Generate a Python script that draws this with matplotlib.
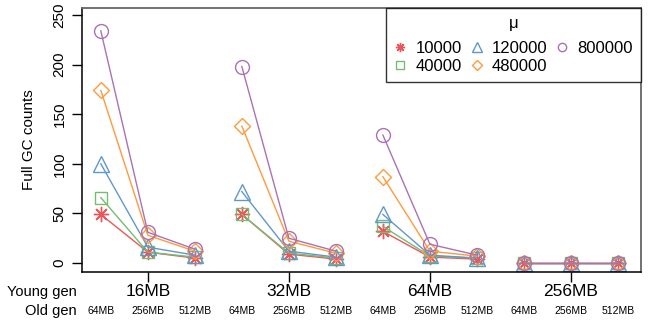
import matplotlib
matplotlib.use("Agg")
import matplotlib.pyplot as plt
import matplotlib.transforms as mtransforms
import numpy as np

plt.rcParams['font.family'] = ['Liberation Sans', 'DejaVu Sans']

young_gen = ["16MB", "32MB", "64MB", "256MB"]
old_gen = ["64MB", "256MB", "512MB"]

mu_labels = ["10000", "40000", "120000", "480000", "800000"]
# values per young gen group: [64MB, 256MB, 512MB] old gen
gc_10000 = [49, 11, 5, 49, 9, 4, 32, 6, 4, 0, 0, 0]
gc_40000 = [66, 11, 6, 49, 10, 5, 37, 7, 5, 0, 0, 0]
gc_120000 = [100, 16, 8, 72, 12, 6, 49, 8, 5, 0, 0, 0]
gc_480000 = [174, 28, 12, 138, 22, 10, 87, 12, 7, 0, 0, 0]
gc_800000 = [234, 31, 14, 198, 25, 12, 129, 19, 8, 0, 0, 0]

series = [gc_10000, gc_40000, gc_120000, gc_480000, gc_800000]
colors = ["#EE5559", "#74BD72", "#5F98CC", "#FF9A3D", "#A972B5"]
markers = [(8, 2, 0), "s", "^", "D", "o"]
msizes = [11, 9, 11, 8, 10]

fig = plt.figure(figsize=(6.54, 3.23), dpi=100)
ax = fig.add_axes([82 / 654, 51 / 323, 559 / 654, 264 / 323])

n_old = len(old_gen)
handles = []
for vals, col, mk, ms, lab in zip(series, colors, markers, msizes, mu_labels):
    vals = np.array(vals, dtype=float)
    for g in range(len(young_gen)):
        xs = np.arange(g * n_old, (g + 1) * n_old)
        ax.plot(xs, vals[g * n_old:(g + 1) * n_old], color=col, lw=1.0,
                marker=mk, markersize=ms, markerfacecolor="none",
                markeredgecolor=col, markeredgewidth=1.0)
    h, = ax.plot([], [], ls="none", marker=mk, markersize=ms * 0.6,
                 markerfacecolor="none", markeredgecolor=col,
                 markeredgewidth=1.0, label=lab)
    handles.append(h)

ax.set_xlim(-0.40, 11.49)
ax.set_ylim(-9, 257)

ax.set_yticks([0, 50, 100, 150, 200, 250])
ax.set_yticklabels(["0", "50", "100", "150", "200", "250"], rotation=90,
                   va="center", fontsize=11)
ax.tick_params(axis="y", length=7, width=1, pad=4)
ax.set_ylabel("Full GC counts", fontsize=11, labelpad=12)

centers = [g * n_old + 1 for g in range(len(young_gen))]
ax.set_xticks(centers)
ax.set_xticklabels(young_gen, fontsize=12.5)
ax.tick_params(axis="x", length=7, width=1, pad=2)

trans = mtransforms.blended_transform_factory(ax.transData, fig.transFigure)
for g in range(len(young_gen)):
    for j, og in enumerate(old_gen):
        ax.text(g * n_old + j, 12 / 323, og, transform=trans, fontsize=7.5,
                ha="center", va="center")

fig.text(77 / 654, 1 - 292 / 323, "Young gen", fontsize=10.5, ha="right", va="center")
fig.text(77 / 654, 1 - 311 / 323, "Old gen", fontsize=10.5, ha="right", va="center")

for side in ["left", "bottom"]:
    ax.spines[side].set_color("black")
    ax.spines[side].set_linewidth(1.1)
for side in ["top", "right"]:
    ax.spines[side].set_color("#666666")
    ax.spines[side].set_linewidth(1.3)

leg = ax.legend(handles=handles, ncol=3, loc="upper right", title="\u03bc",
                fontsize=12, title_fontsize=12, frameon=True, fancybox=False,
                borderaxespad=0, handlelength=0.7, handletextpad=0.55,
                columnspacing=0.55, borderpad=0.5, labelspacing=0.15)
leg.get_frame().set_edgecolor("black")
leg.get_frame().set_linewidth(1.0)
leg._legend_box.sep = 7

fig.savefig("out.png", dpi=100)
